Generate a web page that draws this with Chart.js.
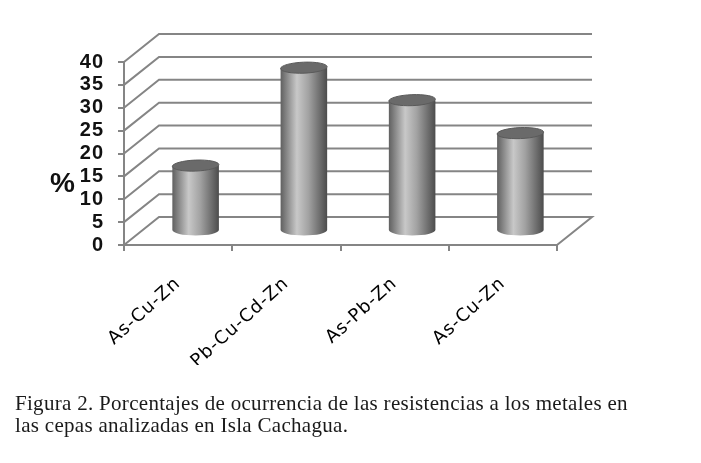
<!DOCTYPE html>
<html>
<head>
<meta charset="utf-8">
<script src="https://cdn.jsdelivr.net/npm/chart.js@4.4.1/dist/chart.umd.min.js"></script>
<style>
  body { margin: 0; background: #fff; }
  #wrap { position: absolute; left: 0; top: 0; width: 701px; height: 463px; }
  #caption {
    position: absolute; left: 15px; top: 392px;
    font-family: "Liberation Serif", serif; font-size: 21px; line-height: 22px;
    letter-spacing: 0.3px; color: #1a1a1a; white-space: nowrap;
  }
</style>
</head>
<body>
<div id="wrap"><canvas id="chart"></canvas></div>
<div id="caption">Figura 2. Porcentajes de ocurrencia de las resistencias a los metales en<br>las cepas analizadas en Isla Cachagua.</div>
<script>
// datos
const categories = ['As-Cu-Zn', 'Pb-Cu-Cd-Zn', 'As-Pb-Zn', 'As-Cu-Zn'];
const percentages = [14.3, 35.7, 28.6, 21.4];
const yMin = 0;
const yMax = 40;
const yStep = 5;

// estilo del efecto 3D
const DEPTH_X = 35;
const DEPTH_Y = -28;
const BAR_FRACTION = 0.43;
const ELLIPSE_RY = 5.5;
const LINE_COLOR = '#858585';

function cylGradient(ctx, cx, w) {
    const g = ctx.createLinearGradient(cx - w / 2, 0, cx + w / 2, 0);
    g.addColorStop(0, '#606060');
    g.addColorStop(0.35, '#c8c8c8');
    g.addColorStop(0.6, '#a2a2a2');
    g.addColorStop(1, '#4c4c4c');
    return g;
}

// paredes, suelo y cilindros
const walls3d = {
    id: 'walls3d',
    beforeDraw(chart) {
        chart.ctx.letterSpacing = '1px';
    },
    beforeDatasetsDraw(chart) {
        const ctx = chart.ctx;
        const y = chart.scales.y;
        const area = chart.chartArea;
        ctx.letterSpacing = '0px';
        ctx.save();
        ctx.strokeStyle = LINE_COLOR;
        ctx.lineWidth = 2;
        y.ticks.forEach(function(t) {
            const py = y.getPixelForValue(t.value);
            ctx.beginPath();
            ctx.moveTo(area.left, py);
            ctx.lineTo(area.left + DEPTH_X, py + DEPTH_Y);
            ctx.lineTo(area.right + DEPTH_X, py + DEPTH_Y);
            if (t.value === yMin) {
                ctx.lineTo(area.right, py);
            }
            ctx.stroke();
        });
        ctx.restore();
        // cilindros a media profundidad
        ctx.save();
        ctx.translate(DEPTH_X / 2, DEPTH_Y / 2);
    },
    afterDatasetsDraw(chart) {
        const ctx = chart.ctx;
        const meta = chart.getDatasetMeta(0);
        meta.data.forEach(function(bar) {
            const w = bar.width;
            // base redondeada
            ctx.beginPath();
            ctx.ellipse(bar.x, bar.base, w / 2, ELLIPSE_RY, 0, 0, Math.PI);
            ctx.fillStyle = cylGradient(ctx, bar.x, w);
            ctx.fill();
            // tapa
            ctx.beginPath();
            ctx.ellipse(bar.x, bar.y, w / 2, ELLIPSE_RY, -0.04, 0, Math.PI * 2);
            ctx.fillStyle = '#6a6a6a';
            ctx.fill();
            ctx.strokeStyle = '#5a5a5a';
            ctx.lineWidth = 1;
            ctx.stroke();
        });
        ctx.restore();
    },
    afterDraw(chart) {
        const ctx = chart.ctx;
        const y = chart.scales.y;
        ctx.save();
        ctx.letterSpacing = '0px';
        ctx.font = 'bold 28px "Liberation Sans", Arial, sans-serif';
        ctx.fillStyle = '#111';
        ctx.textBaseline = 'middle';
        ctx.textAlign = 'left';
        ctx.fillText('%', 50, y.getPixelForValue(13.2));
        ctx.restore();
    }
};

const chart = new Chart(document.getElementById('chart'), {
    type: 'bar',
    data: {
        labels: categories,
        datasets: [{
            data: percentages,
            backgroundColor: function(context) {
                const c = context.chart;
                const xs = c.scales.x;
                if (!xs || !c.chartArea) return '#999';
                const cx = xs.getPixelForValue(context.dataIndex);
                const w = (xs.getPixelForValue(1) - xs.getPixelForValue(0)) * BAR_FRACTION;
                return cylGradient(c.ctx, cx, w);
            },
            borderWidth: 0,
            categoryPercentage: 1,
            barPercentage: BAR_FRACTION
        }]
    },
    options: {
        responsive: true,
        maintainAspectRatio: false,
        animation: false,
        layout: {
            padding: { top: 62, right: 144, left: 0, bottom: 98 }
        },
        scales: {
            x: {
                afterFit: function(scale) { scale.height = 120; },
                grid: {
                    offset: true,
                    drawOnChartArea: false,
                    tickLength: 6,
                    color: LINE_COLOR,
                    lineWidth: 2
                },
                border: { color: LINE_COLOR, width: 2 },
                ticks: {
                    minRotation: 42,
                    maxRotation: 42,
                    autoSkip: false,
                    padding: 22,
                    color: '#000',
                    font: { family: '"DejaVu Sans", Verdana, sans-serif', size: 18 }
                }
            },
            y: {
                min: yMin,
                max: yMax,
                afterFit: function(scale) { scale.width = 124; },
                grid: {
                    drawOnChartArea: false,
                    tickLength: 6,
                    color: LINE_COLOR,
                    lineWidth: 2
                },
                border: { color: LINE_COLOR, width: 2 },
                ticks: {
                    stepSize: yStep,
                    autoSkip: false,
                    padding: 14,
                    color: '#111',
                    font: { family: '"Liberation Sans", Arial, sans-serif', size: 20, weight: 'bold' }
                }
            }
        },
        plugins: {
            legend: { display: false },
            tooltip: { enabled: false }
        }
    },
    plugins: [walls3d]
});
</script>
</body>
</html>
